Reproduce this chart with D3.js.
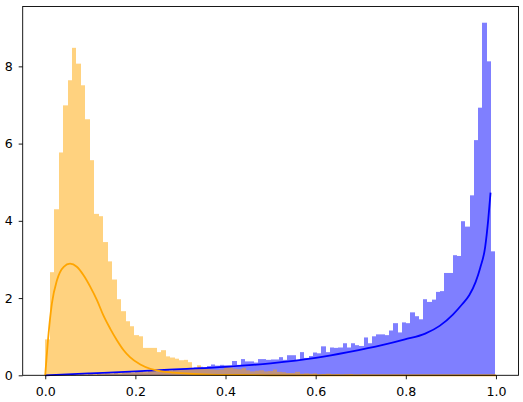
<!DOCTYPE html>
<html>
<head>
<meta charset="utf-8">
<script src="https://cdn.jsdelivr.net/npm/d3@7"></script>
<style>
  body { margin: 0; background: #fff; }
  text { font-family: "DejaVu Sans", sans-serif; font-size: 12.6px; fill: #000; }
</style>
</head>
<body>
<svg id="chart"></svg>
<script>
// histogram densities, orange sample (bins start at 0.0, width 0.0099)
var orangeStart = 0.0;
var orangeWidth = 0.0099;
var orangeHeights = [
  0.93, 2.67, 4.30, 5.77, 6.99, 7.64, 8.48, 8.07, 7.51, 6.63,
  5.57, 4.18, 4.12, 3.45, 2.95, 2.48, 1.97, 1.66, 1.40, 1.27,
  1.04, 1.01, 0.71, 0.71, 0.71, 0.60, 0.65, 0.49, 0.46, 0.43,
  0.39, 0.40, 0.34, 0.19, 0.26, 0.19, 0.17, 0.15, 0.14, 0.15,
  0.21, 0.20, 0.17, 0.16, 0.19, 0.13, 0.10, 0.12, 0.13, 0.10,
  0.11, 0.15, 0.09, 0.08, 0.06, 0.06, 0.09, 0.04, 0.05, 0.04,
  0.05, 0.02, 0.03, 0.04, 0.02, 0.03, 0.01, 0.02, 0.03, 0.01,
  0.01, 0.02, 0.01, 0.01, 0.0, 0.01, 0.0, 0.0, 0.01, 0.0
];

// histogram densities, blue sample (bins start at 0.058, width 0.0094)
var blueStart = 0.058;
var blueWidth = 0.0094;
var blueHeights = [
  0.01, 0.00, 0.02, 0.01, 0.03, 0.02, 0.04, 0.03, 0.05, 0.04,
  0.06, 0.05, 0.07, 0.08, 0.06, 0.09, 0.10, 0.08, 0.11, 0.12,
  0.10, 0.13, 0.14, 0.12, 0.16, 0.15, 0.17, 0.19, 0.18, 0.20,
  0.22, 0.21, 0.24, 0.28, 0.25, 0.27, 0.26, 0.26, 0.37, 0.27,
  0.42, 0.36, 0.36, 0.33, 0.42, 0.42, 0.40, 0.41, 0.41, 0.47,
  0.40, 0.52, 0.52, 0.40, 0.60, 0.45, 0.50, 0.59, 0.57, 0.75,
  0.60, 0.72, 0.71, 0.72, 0.83, 0.72, 0.83, 0.78, 0.76, 0.98,
  0.83, 1.01, 1.06, 1.06, 1.04, 1.16, 1.35, 1.11, 1.37, 1.35,
  1.63, 1.53, 1.45, 1.97, 1.90, 1.96, 2.16, 2.18, 2.65, 2.65,
  3.11, 3.09, 3.99, 3.85, 4.66, 6.09, 6.93, 9.13, 8.13, 3.21
];

// fitted curves
var orangeCurveX = [0, 0.0074, 0.0148, 0.026, 0.041, 0.055, 0.070, 0.085, 0.100, 0.115,
  0.129, 0.144, 0.159, 0.174, 0.188, 0.211, 0.233, 0.255, 0.284, 0.32,
  0.366, 0.42, 0.5, 0.6, 0.8, 1.0];
var orangeCurveY = [0, 1.08, 1.86, 2.46, 2.81, 2.89, 2.81, 2.59, 2.29, 1.94,
  1.55, 1.21, 0.91, 0.65, 0.47, 0.28, 0.17, 0.11, 0.07, 0.04,
  0.02, 0.01, 0.0, 0.0, 0.0, 0.0];

var blueCurveX = [0, 0.1, 0.2, 0.3, 0.4, 0.5, 0.6, 0.672, 0.747, 0.798,
  0.843, 0.875, 0.905, 0.925, 0.941, 0.955, 0.965, 0.976, 0.983, 0.988];
var blueCurveY = [0, 0.05, 0.10, 0.16, 0.22, 0.31, 0.45, 0.60, 0.78, 0.93,
  1.08, 1.28, 1.58, 1.84, 2.08, 2.42, 2.78, 3.32, 4.05, 4.73];

// tick labels
var xTicks = [0.0, 0.2, 0.4, 0.6, 0.8, 1.0];
var yTicks = [0, 2, 4, 6, 8];

// parameters (plot box edges)
var width = 523;
var height = 402;
var boxLeft = 22.7;
var boxRight = 518.5;
var boxTop = 6.5;
var boxBottom = 375.3;

var svg = d3.select("#chart");
svg.attr("width", width);
svg.attr("height", height);

var x = d3.scaleLinear().domain([-0.05, 1.05]).range([boxLeft, boxRight]);
var y = d3.scaleLinear().domain([0, 9.55]).range([boxBottom, boxTop]);

// draw one histogram as rects with whole pixel edges so neighbours don't seam
function drawHist(heights, start, binWidth, color) {
  var g = svg.append("g").attr("fill", color).attr("fill-opacity", 0.5);
  for (var i = 0; i < heights.length; i += 1) {
    if (heights[i] <= 0) continue;
    var x0 = Math.round(x(start + i * binWidth));
    var x1 = Math.round(x(start + (i + 1) * binWidth));
    var rect = g.append("rect");
    rect.attr("x", x0);
    rect.attr("width", x1 - x0);
    rect.attr("y", y(heights[i]));
    rect.attr("height", y(0) - y(heights[i]));
  }
}

drawHist(blueHeights, blueStart, blueWidth, "blue");
drawHist(orangeHeights, orangeStart, orangeWidth, "orange");

// curves
function drawCurve(xs, ys, color) {
  var pts = xs.map(function (d, i) { return [x(d), y(ys[i])]; });
  var line = svg.append("path");
  line.attr("d", d3.line().curve(d3.curveMonotoneX)(pts));
  line.attr("stroke", color);
  line.attr("stroke-width", 1.8);
  line.attr("fill", "none");
}

drawCurve(blueCurveX, blueCurveY, "blue");
drawCurve(orangeCurveX, orangeCurveY, "orange");

// axes frame
var frame = svg.append("rect");
frame.attr("x", boxLeft);
frame.attr("y", boxTop);
frame.attr("width", boxRight - boxLeft);
frame.attr("height", boxBottom - boxTop);
frame.attr("fill", "none");
frame.attr("stroke", "black");
frame.attr("stroke-width", 0.9);

// x ticks
var xAxis = d3.axisBottom(x).tickValues(xTicks).tickSize(4).tickPadding(4)
  .tickFormat(d3.format(".1f"));
var gx = svg.append("g").attr("transform", "translate(0," + boxBottom + ")").call(xAxis);
gx.select(".domain").remove();
gx.selectAll("line").attr("stroke", "black").attr("stroke-width", 0.9);
gx.selectAll("text").attr("font-family", null).attr("font-size", null)
  .attr("dy", null).attr("y", 20.9);

// y ticks
var yAxis = d3.axisLeft(y).tickValues(yTicks).tickSize(4).tickPadding(6)
  .tickFormat(d3.format("d"));
var gy = svg.append("g").attr("transform", "translate(" + boxLeft + ",0)").call(yAxis);
gy.select(".domain").remove();
gy.selectAll("line").attr("stroke", "black").attr("stroke-width", 0.9);
gy.selectAll("text").attr("font-family", null).attr("font-size", null);
</script>
</body>
</html>
